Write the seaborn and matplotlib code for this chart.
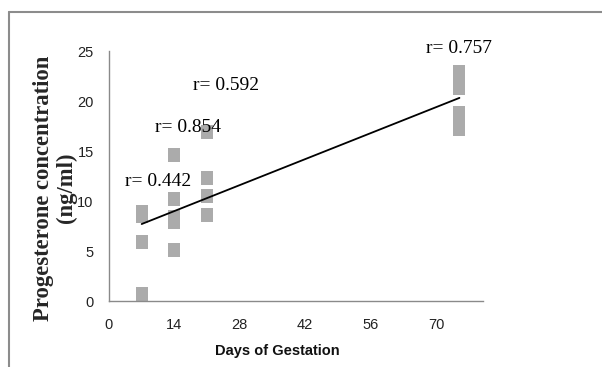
import matplotlib
matplotlib.use("Agg")
import matplotlib.pyplot as plt
import seaborn as sns
from matplotlib.lines import Line2D

# === Data ===
days = [7, 7, 7, 7, 14, 14, 14, 14, 14, 21, 21, 21, 21, 75, 75, 75, 75, 75, 75]
progesterone = [8.9, 8.5, 5.9, 0.7,
                14.6, 10.2, 8.4, 7.9, 5.1,
                16.9, 12.3, 10.55, 8.65,
                22.9, 22.1, 21.3, 18.8, 18.0, 17.2]
r_labels = ["r= 0.442", "r= 0.854", "r= 0.592", "r= 0.757"]
r_x = [10.5, 17.0, 25.1, 75.0]
r_y = [11.5, 16.9, 21.1, 24.8]
x_ticks = [0, 14, 28, 42, 56, 70]
y_ticks = [0, 5, 10, 15, 20, 25]

sans = ["Liberation Sans", "DejaVu Sans"]
serif = ["Liberation Serif", "DejaVu Serif"]

sns.set_style("white")
fig = plt.figure(figsize=(6.02, 3.67), dpi=100)
ax = fig.add_axes([0.181, 0.1798, 0.621, 0.681])

# Square markers slightly taller than wide, like the Excel original
rect = [(-0.42, -0.5), (0.42, -0.5), (0.42, 0.5), (-0.42, 0.5), (-0.42, -0.5)]
sns.regplot(x=days, y=progesterone, ax=ax, ci=None, truncate=True,
            marker=rect,
            scatter_kws={"s": 100, "color": "#ababab", "linewidths": 0, "alpha": 1},
            line_kws={"color": "black", "linewidth": 1.3})

# per-group correlation labels
for lab, xx, yy in zip(r_labels, r_x, r_y):
    ax.text(xx, yy, lab, ha="center", va="baseline", fontsize=14,
            family=serif, color="black")

ax.set_xlim(0, 80)
ax.set_ylim(0, 25)
ax.set_xticks(x_ticks)
ax.set_yticks(y_ticks)
for lbl in ax.get_xticklabels() + ax.get_yticklabels():
    lbl.set_family(sans)
    lbl.set_fontsize(10.5)
    lbl.set_color("#222222")

sns.despine(ax=ax)
for side in ["left", "bottom"]:
    ax.spines[side].set_color("#8a8a8a")
    ax.spines[side].set_linewidth(1.0)
ax.tick_params(axis="both", direction="out", length=4, width=1, color="#8a8a8a")
ax.tick_params(axis="x", pad=8)
ax.tick_params(axis="y", pad=7)
ax.set_xlabel("")
ax.set_ylabel("")

fig.text(277 / 602, 1 - 355 / 367, "Days of Gestation", ha="center", va="baseline",
         fontsize=10.5, fontweight="bold", family=sans, color="#111111")
fig.text(55 / 602, 1 - 188 / 367, "Progesterone concentration\n(ng/ml)",
         rotation=90, ha="center", va="center", multialignment="center",
         fontsize=16.3, fontweight="bold", family=serif, linespacing=1.15)

# Thin gray frame (top and left edges visible in the reference)
frame_kw = dict(color="#8c8c8c", linewidth=1.5, transform=fig.transFigure)
fig.add_artist(Line2D([9 / 602, 9 / 602], [0, 1 - 12 / 367], **frame_kw))
fig.add_artist(Line2D([9 / 602, 1], [1 - 12 / 367, 1 - 12 / 367], **frame_kw))

fig.savefig("out.png", dpi=100)
plt.close(fig)
